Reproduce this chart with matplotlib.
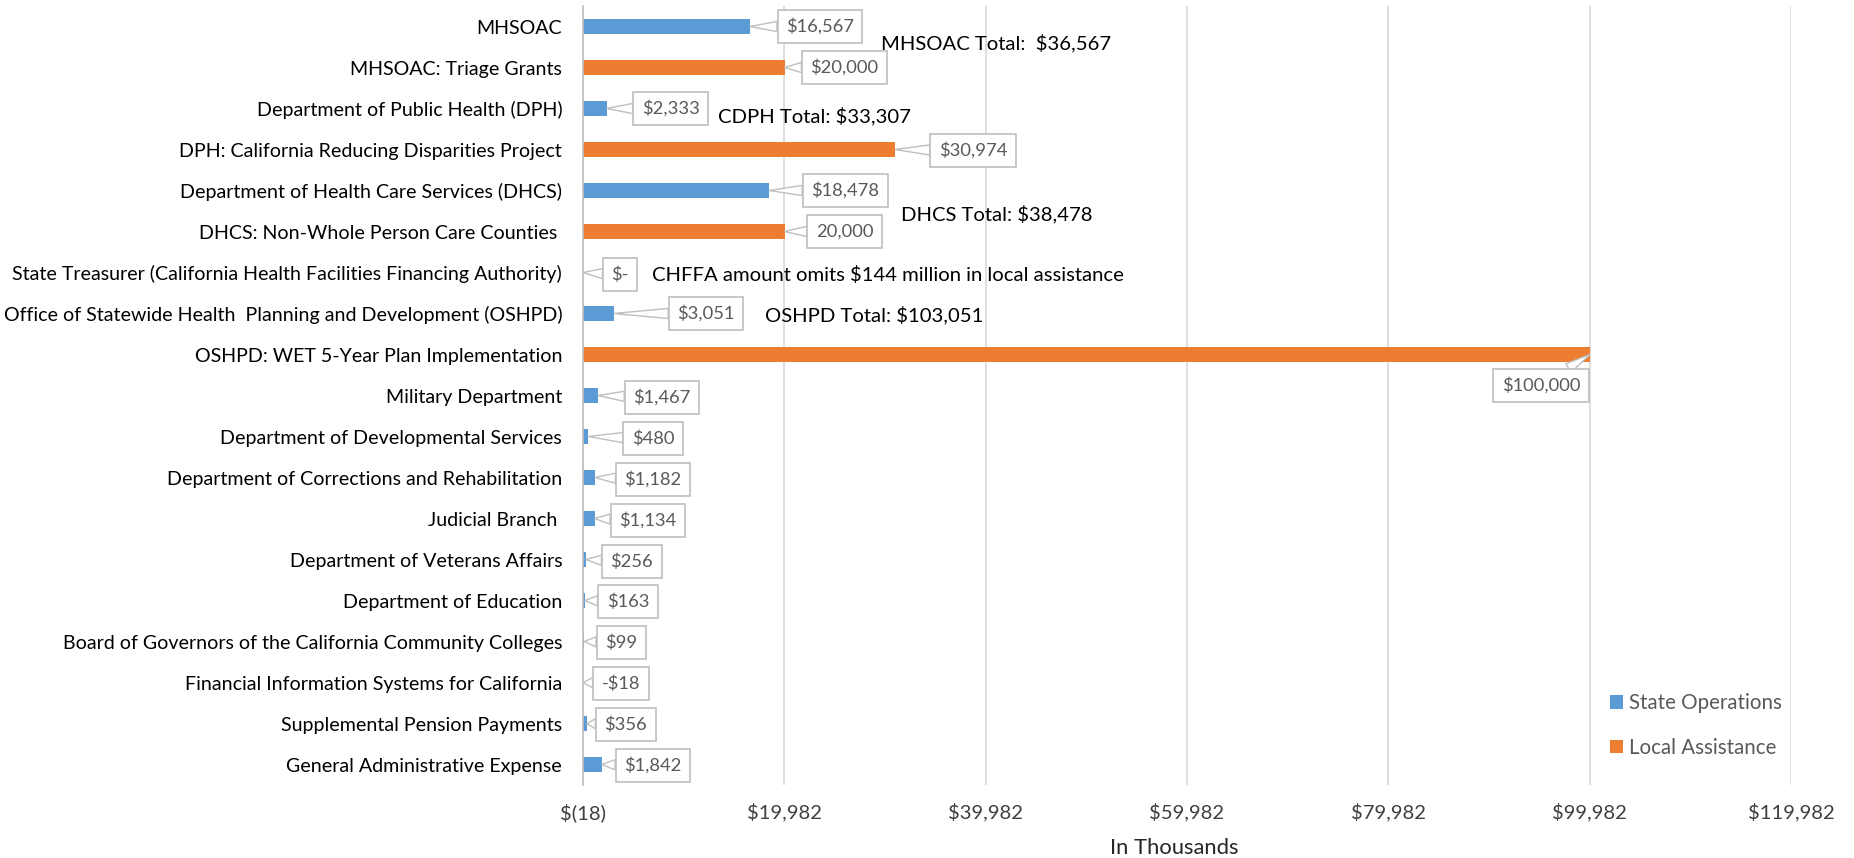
import matplotlib
matplotlib.use("Agg")
import matplotlib.pyplot as plt
from matplotlib.patches import Patch

plt.rcParams['font.family'] = ['Lato', 'DejaVu Sans']

categories = [
    "MHSOAC",
    "MHSOAC: Triage Grants",
    "Department of Public Health (DPH)",
    "DPH: California Reducing Disparities Project",
    "Department of Health Care Services (DHCS)",
    "DHCS: Non-Whole Person Care Counties ",
    "State Treasurer (California Health Facilities Financing Authority)",
    "Office of Statewide Health  Planning and Development (OSHPD)",
    "OSHPD: WET 5-Year Plan Implementation",
    "Military Department",
    "Department of Developmental Services",
    "Department of Corrections and Rehabilitation",
    "Judicial Branch ",
    "Department of Veterans Affairs",
    "Department of Education",
    "Board of Governors of the California Community Colleges",
    "Financial Information Systems for California",
    "Supplemental Pension Payments",
    "General Administrative Expense",
]
state_ops = [16567, 0, 2333, 0, 18478, 0, 0, 3051, 0, 1467, 480, 1182, 1134,
             256, 163, 99, -18, 356, 1842]
local_assist = [0, 20000, 0, 30974, 0, 20000, 0, 0, 100000, 0, 0, 0, 0,
                0, 0, 0, 0, 0, 0]
value_labels = ["$16,567", "$20,000", "$2,333", "$30,974", "$18,478", "20,000",
                "$-", "$3,051", "$100,000", "$1,467", "$480", "$1,182",
                "$1,134", "$256", "$163", "$99", "-$18", "$356", "$1,842"]
label_series = ["state", "local", "state", "local", "state", "local", "state",
                "state", "local", "state", "state", "state", "state", "state",
                "state", "state", "state", "state", "state"]
x_ticks = [-18, 19982, 39982, 59982, 79982, 99982, 119982]
x_tick_labels = ["$(18)", "$19,982", "$39,982", "$59,982", "$79,982",
                 "$99,982", "$119,982"]
series_names = ["State Operations", "Local Assistance"]
notes = ["MHSOAC Total:  $36,567", "CDPH Total: $33,307", "DHCS Total: $38,478",
         "CHFFA amount omits $144 million in local assistance",
         "OSHPD Total: $103,051"]

# layout (not data): note anchors (data x, row) and callout offsets in pixels
note_pos = [(29600, 0.40), (13370, 2.18), (31570, 4.58), (6790, 6.07), (18070, 7.03)]
callout_off = [(70, 0), (60, 0), (64, 0), (78, 1), (76, 0), (60, 0), (37, 2),
               (92, 0), (-49, 31), (64, 2), (65, 2), (58, 2), (53, 2), (46, 2),
               (43, 1), (37, 1), (38, 1), (39, 1), (51, 1)]

BLUE = "#5B9BD5"
ORANGE = "#ED7D31"
FS = 14.1

fig = plt.figure(figsize=(18.54, 8.58), dpi=100)
ax = fig.add_axes([583 / 1854, 1 - 785 / 858, 1208 / 1854, 779 / 858])

rows = list(range(len(categories)))
ax.barh(rows, state_ops, height=0.36, color=BLUE, zorder=2)
ax.barh(rows, local_assist, height=0.36, color=ORANGE, zorder=2)

for s in ["top", "right", "bottom"]:
    ax.spines[s].set_visible(False)
ax.spines["left"].set_color("#BFBFBF")
ax.spines["left"].set_linewidth(1.2)

ax.set_xlim(x_ticks[0], x_ticks[-1])
ax.set_ylim(len(categories) - 0.5, -0.5)
ax.set_yticks(rows)
ax.set_yticklabels(categories, fontsize=FS, color="black")
ax.set_xticks(x_ticks)
ax.set_xticklabels(x_tick_labels, fontsize=14.6, color="#404040")
ax.tick_params(axis="y", length=0, pad=15)
ax.tick_params(axis="x", length=0, pad=13)
ax.xaxis.grid(True, color="#D9D9D9", linewidth=1.2, zorder=0)
ax.set_axisbelow(True)
ax.set_xlabel("In Thousands", fontsize=15.8, color="#262626")
ax.xaxis.label.set_va("center")
ax.xaxis.set_label_coords((1174 - 583) / 1208, -(848 - 785) / 779)

for i, lab in enumerate(value_labels):
    v = state_ops[i] if label_series[i] == "state" else local_assist[i]
    dx, dy = callout_off[i]
    ax.annotate(lab, xy=(v, i), xytext=(dx, -dy),
                textcoords="offset pixels",
                ha="center", va="center", fontsize=13.2, color="#595959",
                bbox=dict(boxstyle="square,pad=0.46", fc="white", ec="#BFBFBF", lw=1.2),
                arrowprops=dict(arrowstyle="wedge,tail_width=0.55,shrink_factor=0.5",
                                fc="white", ec="#BFBFBF", lw=1.0,
                                shrinkA=0, shrinkB=0),
                zorder=5, annotation_clip=False)

for txt, (nx, ny) in zip(notes, note_pos):
    ax.text(nx, ny, txt, fontsize=14.6, color="black", ha="left", va="center",
            zorder=6)

handles = [Patch(facecolor=BLUE), Patch(facecolor=ORANGE)]
leg = fig.legend(handles, series_names, loc="upper left",
                 bbox_to_anchor=(1600 / 1854, 1 - 683 / 858), frameon=False,
                 fontsize=14.8, handlelength=0.63, handleheight=0.63,
                 handletextpad=0.3, labelspacing=1.2, borderpad=0)
for t in leg.get_texts():
    t.set_color("#595959")

fig.savefig("out.png", dpi=100)
